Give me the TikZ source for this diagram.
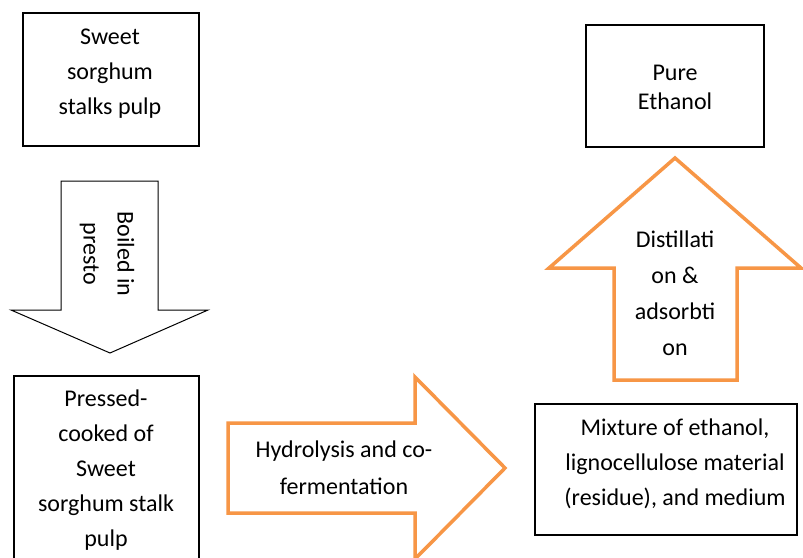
\documentclass[tikz,border=0pt]{standalone}
\usepackage{fontspec}
\setmainfont{Carlito}
\definecolor{flow}{HTML}{F79646}
\usetikzlibrary{positioning}

\begin{document}
\begin{tikzpicture}[x=1pt, y=-1pt,
    box/.style={draw, line width=1.3pt, fill=white},
    txt/.style={align=center, font=\fontsize{24}{35}\selectfont},
    outline/.style={draw, line width=1pt, fill=white},
    flowarrow/.style={draw=flow, line width=3.5pt, fill=white, line join=miter}]
    \clip (0,0) rectangle (803,557);
    \fill[white] (0,0) rectangle (803,557);

    % Boxes
    \draw[box] (23,13) rectangle (199,146);
    \node[txt] (pulp) at (110,74) {Sweet\\sorghum\\stalks pulp};

    \draw[box] (14,376) rectangle (199,580);
    \node[txt] (pressed) at (106,470) {Pressed-\\cooked of\\Sweet\\sorghum stalk\\pulp};

    \draw[box] (535,404) rectangle (797,535);
    \node[txt] (mixture) at (675,464) {Mixture of ethanol,\\lignocellulose material\\(residue), and medium};

    \draw[box] (586,25) rectangle (764,147);
    \node[txt, font=\fontsize{24}{29}\selectfont] (ethanol) at (675,87) {Pure\\Ethanol};

    % Block arrows
    \draw[outline] (61,181) -- (158,181) -- (158,310) -- (208,310) -- (110,353)
        -- (11,310) -- (61,310) -- cycle;
    \node[txt, rotate=-90, font=\fontsize{24}{34}\selectfont] (boil) at (107,254) {Boiled in\\presto};

    \draw[flowarrow] (228,423) -- (415,423) -- (415,377) -- (505,468)
        -- (415,559) -- (415,513) -- (228,513) -- cycle;
    \node[txt, font=\fontsize{24}{37}\selectfont] (hydro) at (344,468) {Hydrolysis and co-\\fermentation};

    \draw[flowarrow] (614,380) -- (614,268) -- (549,268) -- (675,158)
        -- (801,268) -- (737,268) -- (737,380) -- cycle;
    \node[txt, font=\fontsize{24}{36}\selectfont] (distil) at (675,293) {Distillati\\on \&\\adsorbti\\on};
\end{tikzpicture}
\end{document}
